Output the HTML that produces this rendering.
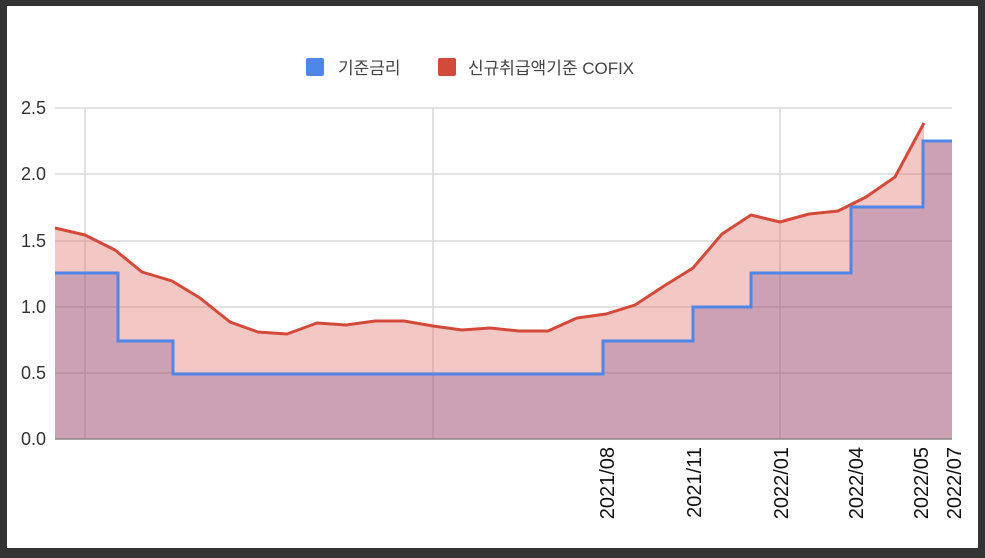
<!DOCTYPE html>
<html><head><meta charset="utf-8"><style>
body{margin:0;background:#333;}
svg{display:block}
text{font-family:"Liberation Sans","Noto Sans CJK KR",sans-serif;}
</style></head><body>
<svg width="985" height="558" viewBox="0 0 985 558">
<rect x="0" y="0" width="985" height="558" fill="#333"/>
<rect x="7" y="6" width="971" height="542" fill="#fff"/>
<g stroke="#d9d9d9" stroke-width="1.5">
<line x1="55" y1="108" x2="952" y2="108"/>
<line x1="55" y1="174" x2="952" y2="174"/>
<line x1="55" y1="241" x2="952" y2="241"/>
<line x1="55" y1="307" x2="952" y2="307"/>
<line x1="55" y1="373" x2="952" y2="373"/>
<line x1="85" y1="108" x2="85" y2="439"/>
<line x1="433" y1="108" x2="433" y2="439"/>
<line x1="780" y1="108" x2="780" y2="439"/>
</g>
<polygon fill="#e06c60" fill-opacity="0.38" points="55,439 55,228 85,235 115,250 142,272 172,281 200,298 230,322 258,332 287,334 317,323 346,325 375,321 404,321 433,326 462,330 490,328 519,331 548,331 577,318 606,314 635,305 664,286 693,268 722,234 751,215 780,222 809,214 838,211 866,197 895,177 924,123 924,141 952,141 952,439"/>
<polygon fill="#6f4a8e" fill-opacity="0.3" points="55,439 55,273 118,273 118,341 173,341 173,374 603,374 603,341 693,341 693,307 751,307 751,273 851,273 851,207 923,207 923,141 952,141 952,439"/>
<polyline fill="none" stroke="#d44a3a" stroke-width="3" stroke-linejoin="round" points="55,228 85,235 115,250 142,272 172,281 200,298 230,322 258,332 287,334 317,323 346,325 375,321 404,321 433,326 462,330 490,328 519,331 548,331 577,318 606,314 635,305 664,286 693,268 722,234 751,215 780,222 809,214 838,211 866,197 895,177 924,123"/>
<polyline fill="none" stroke="#4f86e8" stroke-width="3" points="55,273 118,273 118,341 173,341 173,374 603,374 603,341 693,341 693,307 751,307 751,273 851,273 851,207 923,207 923,141 952,141"/>
<line x1="55" y1="439" x2="952" y2="439" stroke="#888" stroke-width="1.5"/>
<g font-size="18" fill="#333" text-anchor="end">
<text x="46" y="114">2.5</text>
<text x="46" y="180">2.0</text>
<text x="46" y="247">1.5</text>
<text x="46" y="313">1.0</text>
<text x="46" y="379">0.5</text>
<text x="46" y="445">0.0</text>
</g>
<g font-size="20" fill="#111" text-anchor="end">
<text transform="translate(614,447) rotate(-90)">2021/08</text>
<text transform="translate(701,447) rotate(-90)">2021/11</text>
<text transform="translate(788,447) rotate(-90)">2022/01</text>
<text transform="translate(863,447) rotate(-90)">2022/04</text>
<text transform="translate(928,447) rotate(-90)">2022/05</text>
<text transform="translate(961,447) rotate(-90)">2022/07</text>
</g>
<rect x="306" y="58" width="18" height="18" rx="2" fill="#4f86e8"/>
<text x="338" y="74" font-size="17" fill="#444">기준금리</text>
<rect x="438" y="58" width="18" height="18" rx="2" fill="#d44a3a"/>
<text x="468" y="74" font-size="17" fill="#444">신규취급액기준 COFIX</text>
</svg>
</body></html>
